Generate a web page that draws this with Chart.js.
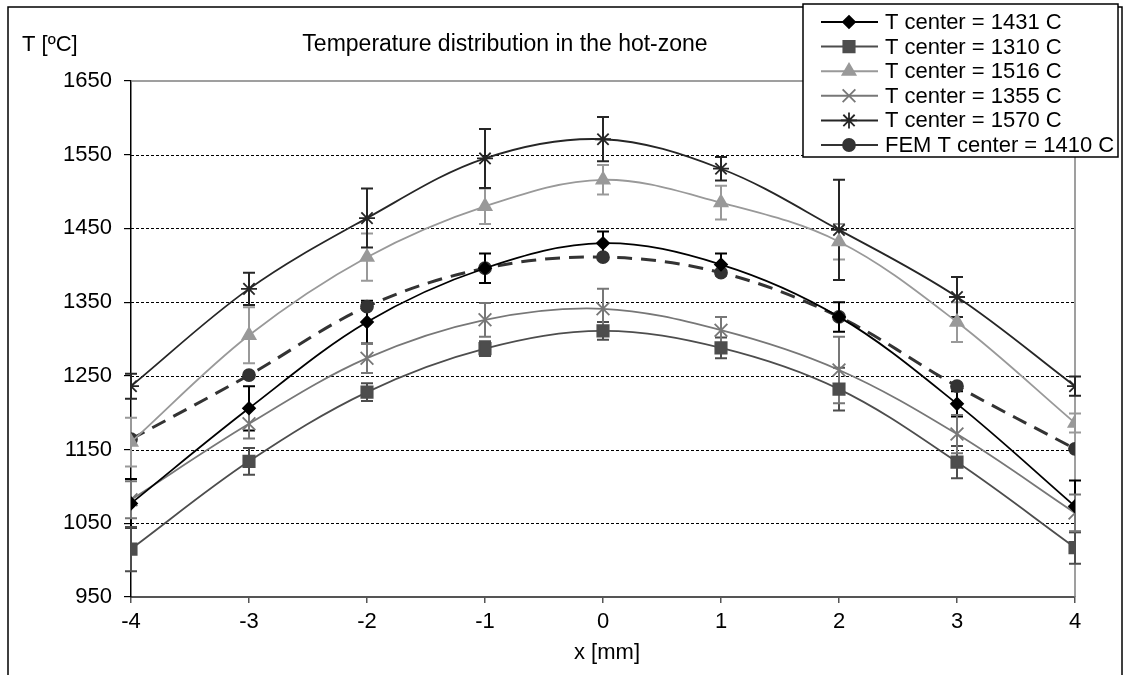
<!DOCTYPE html>
<html>
<head>
<meta charset="utf-8">
<script src="https://cdn.jsdelivr.net/npm/chart.js@4/dist/chart.umd.min.js"></script>
<style>
  html, body { margin:0; padding:0; background:#fff; }
  #wrap { width:1123px; height:675px; position:relative; }
</style>
</head>
<body>
<div id="wrap"><canvas id="tempChart" width="1123" height="675"></canvas></div>
<script>
/* ── data ── */
const X_MM     = [-4, -3, -2, -1, 0, 1, 2, 3, 4];
const Y_TICKS  = [950, 1050, 1150, 1250, 1350, 1450, 1550, 1650];

const T1431    = [1077, 1206, 1323, 1396, 1430, 1401, 1330, 1212, 1073];
const T1310    = [1015, 1134, 1228, 1287, 1311, 1288, 1232, 1133, 1017];
const T1516    = [1160, 1305, 1411, 1480, 1516, 1485, 1432, 1323, 1186];
const T1355    = [1082, 1185, 1274, 1326, 1341, 1312, 1258, 1171, 1064];
const T1570    = [1236, 1368, 1464, 1545, 1571, 1531, 1448, 1357, 1236];
const FEM1410  = [1164, 1251, 1344, 1396, 1411, 1390, 1330, 1236, 1151];

const ERR1431  = [33, 30, 29, 20, 16, 15, 20, 17, 35];
const ERR1310  = [30, 18, 12, 10, 12, 14, 29, 22, 22];
const ERR1516  = [33, 38, 32, 24, 20, 23, 24, 27, 13];
const ERR1355  = [25, 20, 20, 23, 27, 18, 45, 26, 25];
const ERR1570  = [17, 22, 40, 40, 30, 16, 68, 27, 13];

const FONT = 'Liberation Sans, Arial, sans-serif';
const pts = ys => X_MM.map((x, i) => ({ x, y: ys[i] }));

function series(label, ys, errs, color, style, radius, extra) {
  return Object.assign({
    label, data: pts(ys), errors: errs,
    borderColor: color, backgroundColor: color,
    pointStyle: style, pointRadius: radius, pointHoverRadius: radius,
    pointBorderColor: color, pointBackgroundColor: color, pointBorderWidth: 1.8,
    borderWidth: 1.8, tension: 0.35, showLine: true, fill: false
  }, extra || {});
}

/* ── plugin: grid, frame, error bars, texts, legend ── */
const decorPlugin = {
  id: 'decor',
  beforeDatasetsDraw(chart) {
    const { ctx, chartArea: a, scales: { y } } = chart;
    ctx.save();
    ctx.strokeStyle = '#000';
    ctx.lineWidth = 1;
    ctx.setLineDash([3, 2]);
    Y_TICKS.slice(1, -1).forEach(v => {
      const py = Math.round(y.getPixelForValue(v)) + 0.5;
      ctx.beginPath(); ctx.moveTo(a.left, py); ctx.lineTo(a.right, py); ctx.stroke();
    });
    ctx.setLineDash([]);
    ctx.strokeStyle = '#808080';
    ctx.lineWidth = 1.5;
    ctx.beginPath();
    ctx.moveTo(a.left, a.top); ctx.lineTo(a.right, a.top); ctx.lineTo(a.right, a.bottom);
    ctx.stroke();
    // error bars
    chart.data.datasets.forEach((ds, di) => {
      if (!ds.errors) return;
      const meta = chart.getDatasetMeta(di);
      ctx.strokeStyle = ds.borderColor;
      ctx.lineWidth = 2;
      meta.data.forEach((pt, i) => {
        const v = ds.data[i].y, e = ds.errors[i];
        const top = y.getPixelForValue(v + e), bot = y.getPixelForValue(v - e);
        ctx.beginPath();
        ctx.moveTo(pt.x, top); ctx.lineTo(pt.x, bot);
        ctx.moveTo(pt.x - 6, top); ctx.lineTo(pt.x + 6, top);
        ctx.moveTo(pt.x - 6, bot); ctx.lineTo(pt.x + 6, bot);
        ctx.stroke();
      });
    });
    ctx.restore();
  },
  afterDraw(chart) {
    const { ctx } = chart;
    ctx.save();
    // outer frame
    ctx.strokeStyle = '#000';
    ctx.lineWidth = 1.5;
    ctx.strokeRect(8, 7, 1114, 700);
    // texts
    ctx.fillStyle = '#000';
    ctx.font = '22px ' + FONT;
    ctx.textBaseline = 'middle';
    ctx.textAlign = 'left';
    ctx.fillText('T [\u00baC]', 22, 45);
    ctx.textAlign = 'center';
    ctx.font = '23px ' + FONT;
    ctx.fillText('Temperature distribution in the hot-zone', 505, 45);
    ctx.font = '22px ' + FONT;
    ctx.fillText('x [mm]', 607, 653);
    // legend
    const lx = 803, ly = 4, lw = 315, lh = 153;
    ctx.fillStyle = '#fff';
    ctx.fillRect(lx, ly, lw, lh);
    ctx.strokeStyle = '#000';
    ctx.lineWidth = 1.5;
    ctx.strokeRect(lx, ly, lw, lh);
    chart.data.datasets.forEach((ds, i) => {
      const cy = 22 + i * 24.6;
      ctx.strokeStyle = ds.borderColor;
      ctx.lineWidth = 2;
      ctx.setLineDash([]);
      ctx.beginPath(); ctx.moveTo(821, cy); ctx.lineTo(878, cy); ctx.stroke();
      ctx.fillStyle = ds.pointBackgroundColor;
      ctx.lineWidth = 1.8;
      Chart.helpers.drawPoint(ctx, { pointStyle: ds.pointStyle, radius: ds.pointRadius, borderWidth: 1.8, rotation: 0 }, 849, cy);
      ctx.fillStyle = '#000';
      ctx.textAlign = 'left';
      ctx.fillText(ds.label, 885, cy + 1);
    });
    ctx.restore();
  }
};

const ctx = document.getElementById('tempChart').getContext('2d');
new Chart(ctx, {
  type: 'scatter',
  data: {
    datasets: [
      series('T center = 1431 C', T1431, ERR1431, '#000000', 'rectRot', 6),
      series('T center = 1310 C', T1310, ERR1310, '#4d4d4d', 'rect', 8),
      series('T center = 1516 C', T1516, ERR1516, '#999999', 'triangle', 7.5),
      series('T center = 1355 C', T1355, ERR1355, '#777777', 'crossRot', 9),
      series('T center = 1570 C', T1570, ERR1570, '#262626', 'star', 8),
      series('FEM T center = 1410 C', FEM1410, null, '#333333', 'circle', 6,
             { borderDash: [15, 9], borderWidth: 3 })
    ]
  },
  options: {
    responsive: false, animation: false, devicePixelRatio: 1,
    layout: { padding: { top: 81, right: 48, left: 0, bottom: 0 } },
    plugins: { legend: { display: false }, tooltip: { enabled: false } },
    scales: {
      x: {
        type: 'linear', min: -4, max: 4,
        afterFit: s => { s.height = 78; },
        afterBuildTicks: s => { s.ticks = X_MM.map(v => ({ value: v })); },
        border: { display: true, color: '#555', width: 2 },
        grid: { display: true, drawOnChartArea: false, drawTicks: true, tickLength: 6, color: '#555', lineWidth: 1.5 },
        ticks: { color: '#000', font: { family: FONT, size: 22 }, padding: 6, callback: v => String(v) }
      },
      y: {
        type: 'linear', min: 950, max: 1650,
        afterFit: s => { s.width = 131; },
        afterBuildTicks: s => { s.ticks = Y_TICKS.map(v => ({ value: v })); },
        border: { display: true, color: '#000', width: 1.5 },
        grid: { display: true, drawOnChartArea: false, drawTicks: true, tickLength: 7, color: '#000', lineWidth: 1.2 },
        ticks: { color: '#000', font: { family: FONT, size: 22 }, padding: 12, callback: v => String(v) }
      }
    }
  },
  plugins: [decorPlugin]
});
</script>
</body>
</html>
